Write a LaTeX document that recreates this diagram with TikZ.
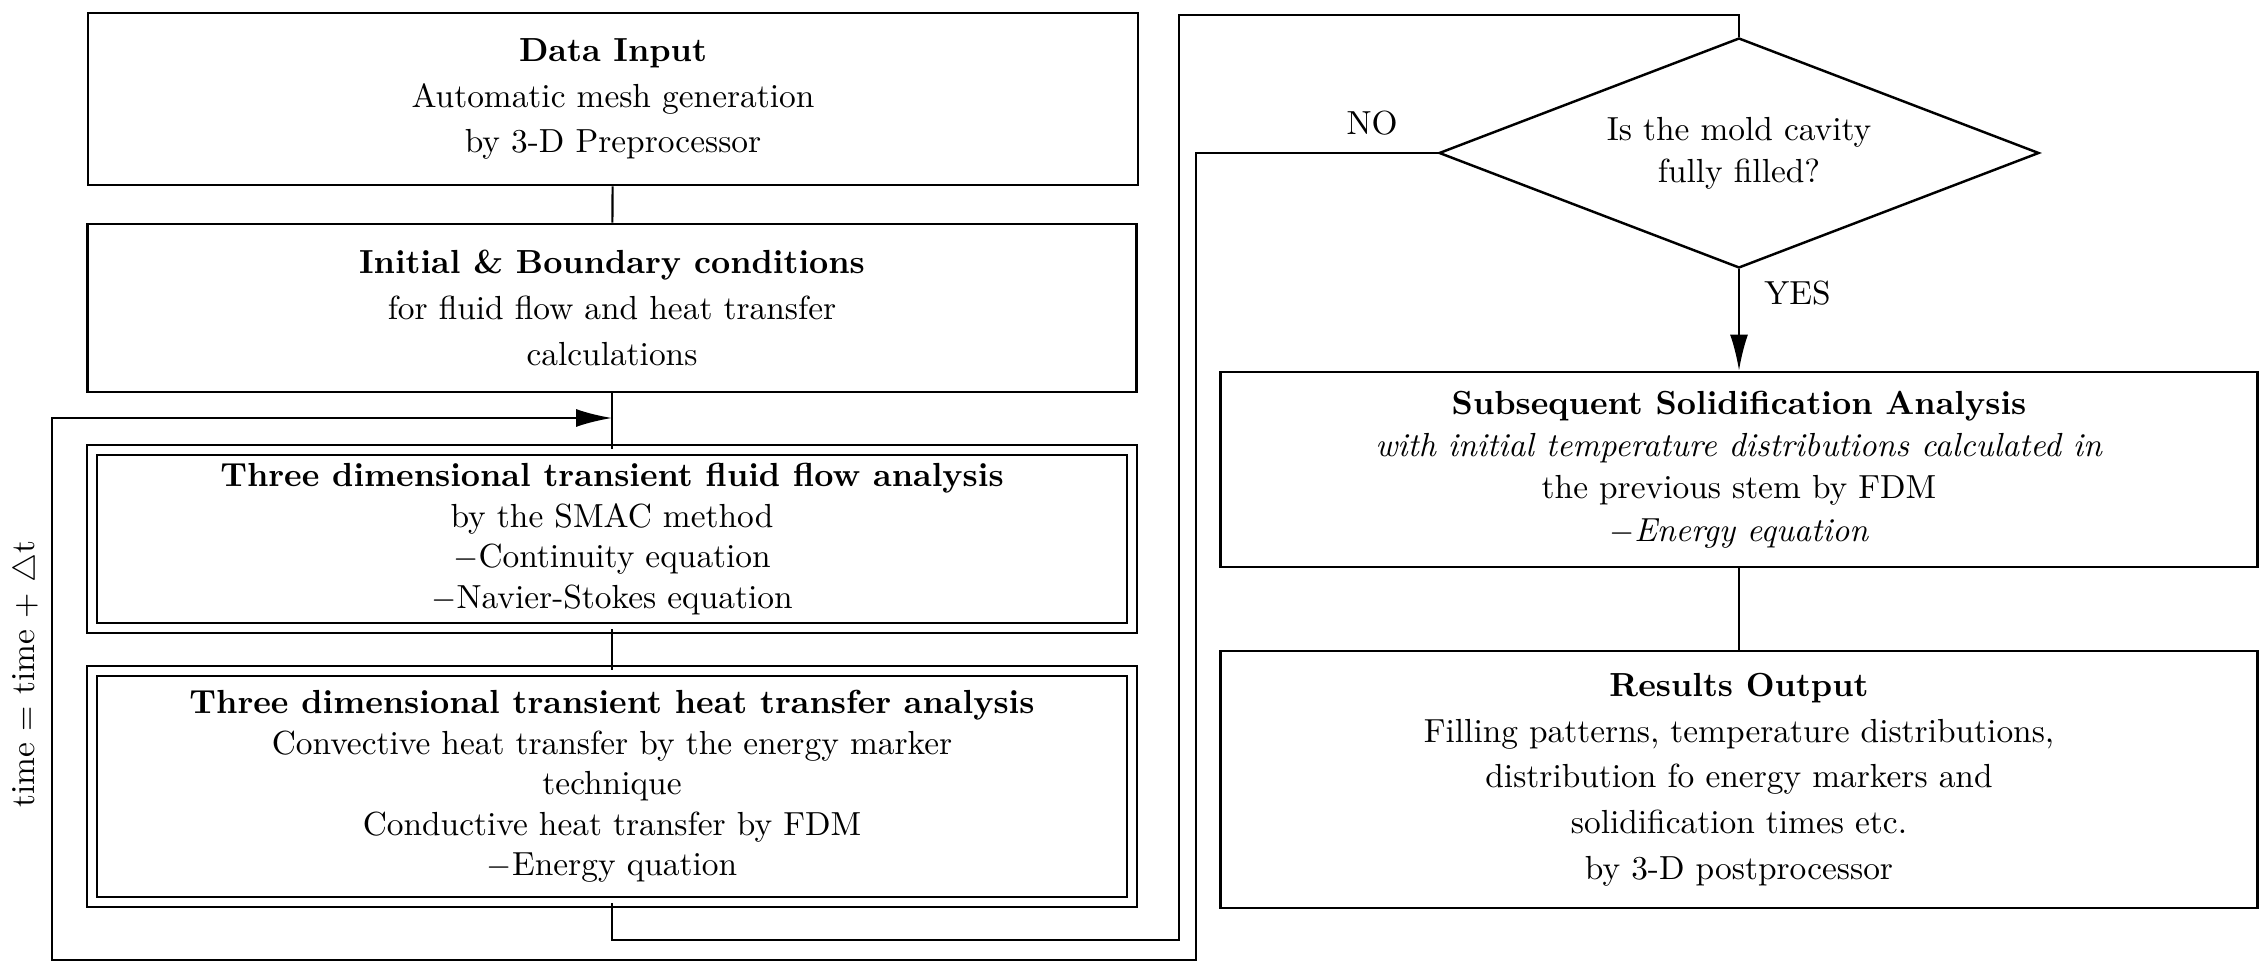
\documentclass[tikz,border=0pt]{standalone}
\usepackage{amsmath}
\usepackage{amssymb}
\usepackage{tikz}
\usetikzlibrary{arrows.meta}
\usetikzlibrary{shapes.geometric}

\tikzset{
  flowbox/.style={draw, line width=0.8pt, align=center, inner sep=0pt,
    font=\fontsize{9.5}{13}\selectfont},
  dblbox/.style={flowbox, double, double distance=0.75mm, line width=0.6pt,
    font=\fontsize{9.5}{11.5}\selectfont},
  decision/.style={draw, diamond, aspect=2.6, line width=0.7pt, inner sep=0pt, align=center,
    font=\fontsize{9.5}{12}\selectfont},
  flowlabel/.style={font=\fontsize{9.5}{12}\selectfont},
  flow/.style={line width=0.6pt},
  flowarrow/.style={flow, -{Latex[length=3.6mm, width=1.8mm]}}
}

\begin{document}
\begin{tikzpicture}

      \useasboundingbox (0, 0) rectangle (22.61, 9.67);

      % left column
      \node [flowbox, minimum width=10.5cm, minimum height=1.72cm] (datain) at (6.13, 8.68)
        {\textbf{Data Input}\\ Automatic mesh generation\\ by 3-D Preprocessor};
      \node [flowbox, minimum width=10.49cm, minimum height=1.68cm] (initcond) at (6.12, 6.59)
        {\textbf{Initial \& Boundary conditions}\\ for fluid flow and heat transfer\\ calculations};
      \node [dblbox, minimum width=10.4cm, minimum height=1.78cm] (fluidflow) at (6.12, 4.28)
        {\textbf{Three dimensional transient fluid flow analysis}\\ by the SMAC method\\
         $-$Continuity equation\\ $-$Navier-Stokes equation};
      \node [dblbox, minimum width=10.4cm, minimum height=2.31cm] (heatflow) at (6.12, 1.805)
        {\textbf{Three dimensional transient heat transfer analysis}\\
         Convective heat transfer by the energy marker\\ technique\\
         Conductive heat transfer by FDM\\ $-$Energy quation};

      % right column
      \node [decision, minimum width=6cm, minimum height=2.3cm] (filled) at (17.39, 8.14)
        {Is the mold cavity\\ fully filled?};
      \node [flowbox, minimum width=10.37cm, minimum height=1.95cm,
        font=\fontsize{9.5}{12}\selectfont] (solidify) at (17.39, 4.975)
        {\textbf{Subsequent Solidification Analysis}\\
         \textit{with initial temperature distributions calculated in}\\
         the previous stem by FDM\\ $-$\textit{Energy equation}};
      \node [flowbox, minimum width=10.37cm, minimum height=2.57cm] (results) at (17.39, 1.875)
        {\textbf{Results Output}\\ Filling patterns, temperature distributions,\\
         distribution fo energy markers and\\ solidification times etc.\\ by 3-D postprocessor};

      \node [flowlabel] (nolabel) at (13.72, 8.44) {NO};
      \node [flowlabel, anchor=west] (yeslabel) at (17.52, 6.74) {YES};
      \node [flowlabel, rotate=90] (timestep) at (0.27, 2.93) {time $=$ time $+$ $\triangle$t};

      % bends of the connectors
      \coordinate (outbend) at (6.12, 0.27);
      \coordinate (topbend) at (11.79, 9.52);
      \coordinate (nobend) at (11.96, 0.07);
      \coordinate (loopbend) at (0.52, 5.49);
      \coordinate (looptip) at (6.12, 5.49);

      \draw [flow] (datain) -- (initcond);
      \draw [flow] (initcond) -- (fluidflow);
      \draw [flow] (fluidflow) -- (heatflow);
      \draw [flow] (heatflow.south) -- (outbend) -| (topbend) -| (filled.north);
      \draw [flowarrow] (filled.south) -- (solidify.north);
      \draw [flow] (solidify) -- (results);
      \draw [flowarrow] (filled.west) -| (nobend) -| (loopbend) -- (looptip);

\end{tikzpicture}
\end{document}
